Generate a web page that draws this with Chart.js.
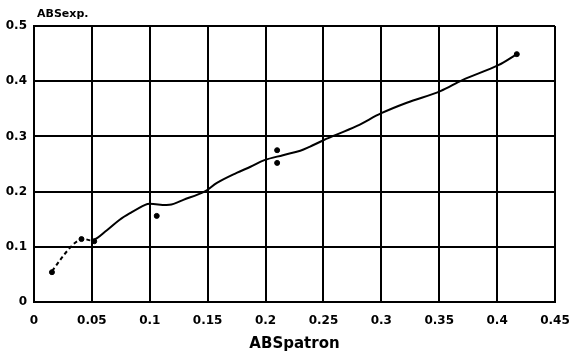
<!DOCTYPE html>
<html>
<head>
<meta charset="utf-8">
<script src="https://cdn.jsdelivr.net/npm/chart.js@4/dist/chart.umd.min.js"></script>
<style>
  html, body { margin: 0; padding: 0; background: #fff; }
  #wrap { width: 571px; height: 353px; }
</style>
</head>
<body>
<div id="wrap"><canvas id="chart"></canvas></div>
<script>
// measured points (ABSpatron vs ABSexp)
const measuredX = [0.0155, 0.041, 0.052, 0.106, 0.21, 0.21, 0.417];
const measuredY = [0.054, 0.114, 0.110, 0.156, 0.275, 0.252, 0.449];

// hand-drawn fit curve
const fitX = [0.0155, 0.031, 0.041, 0.051, 0.063, 0.074, 0.083, 0.096, 0.100, 0.117, 0.129, 0.148, 0.158, 0.175, 0.187, 0.199, 0.215, 0.230, 0.238, 0.250, 0.279, 0.300, 0.322, 0.351, 0.370, 0.401, 0.417];
const fitY = [0.056, 0.098, 0.114, 0.112, 0.130, 0.149, 0.161, 0.176, 0.178, 0.176, 0.185, 0.201, 0.216, 0.234, 0.245, 0.257, 0.266, 0.274, 0.281, 0.293, 0.319, 0.342, 0.361, 0.382, 0.402, 0.429, 0.449];

const xTicks = [0, 0.05, 0.1, 0.15, 0.2, 0.25, 0.3, 0.35, 0.4, 0.45];
const xTickLabels = ['0', '0.05', '0.1', '0.15', '0.2', '0.25', '0.3', '0.35', '0.4', '0.45'];
const yTicks = [0, 0.1, 0.2, 0.3, 0.4, 0.5];
const yTickLabels = ['0', '0.1', '0.2', '0.3', '0.4', '0.5'];

const FONT = '"DejaVu Sans", sans-serif';

// small label above the y axis
const yLabelPlugin = {
    id: 'yLabel',
    afterDraw(chart) {
        const { ctx, chartArea } = chart;
        ctx.save();
        ctx.font = 'bold 11px ' + FONT;
        ctx.fillStyle = '#000';
        ctx.textBaseline = 'alphabetic';
        ctx.fillText('ABSexp.', chartArea.left + 3, chartArea.top - 9);
        ctx.restore();
    }
};

new Chart(document.getElementById('chart'), {
    type: 'scatter',
    data: {
        datasets: [
            {
                label: 'fit',
                data: fitX.map((x, i) => ({ x, y: fitY[i] })),
                showLine: true,
                borderColor: '#000',
                borderWidth: 2,
                pointRadius: 0,
                tension: 0.35,
                segment: {
                    borderDash: c => (c.p1.parsed.x <= 0.052 ? [4, 3] : undefined)
                }
            },
            {
                label: 'measured',
                data: measuredX.map((x, i) => ({ x, y: measuredY[i] })),
                pointRadius: 2.5,
                pointBackgroundColor: '#000',
                pointBorderColor: '#000',
                showLine: false
            }
        ]
    },
    options: {
        responsive: true,
        maintainAspectRatio: false,
        animation: false,
        layout: { padding: { left: 0, top: 26, right: 0, bottom: 0 } },
        plugins: {
            legend: { display: false },
            tooltip: { enabled: false }
        },
        scales: {
            x: {
                type: 'linear',
                min: 0,
                max: 0.45,
                afterBuildTicks: s => { s.ticks = xTicks.map(v => ({ value: v })); },
                afterFit: s => { s.height = 51; s.paddingRight = 16; s.paddingLeft = 0; },
                grid: { color: '#000', lineWidth: 2, drawTicks: false },
                border: { color: '#000', width: 2 },
                ticks: {
                    color: '#000',
                    padding: 12,
                    maxRotation: 0,
                    font: { family: FONT, size: 12, weight: 'bold' },
                    callback: (v, i) => xTickLabels[i]
                },
                title: {
                    display: true,
                    text: 'ABSpatron',
                    color: '#000',
                    padding: { top: 1, bottom: 0 },
                    font: { family: FONT, size: 15, weight: 'bold' }
                }
            },
            y: {
                type: 'linear',
                min: 0,
                max: 0.5,
                afterBuildTicks: s => { s.ticks = yTicks.map(v => ({ value: v })); },
                afterFit: s => { s.width = 34; },
                grid: { color: '#000', lineWidth: 2, drawTicks: false },
                border: { color: '#000', width: 2 },
                ticks: {
                    color: '#000',
                    padding: 7,
                    font: { family: FONT, size: 12, weight: 'bold' },
                    callback: (v, i) => yTickLabels[i]
                }
            }
        }
    },
    plugins: [yLabelPlugin]
});
</script>
</body>
</html>
